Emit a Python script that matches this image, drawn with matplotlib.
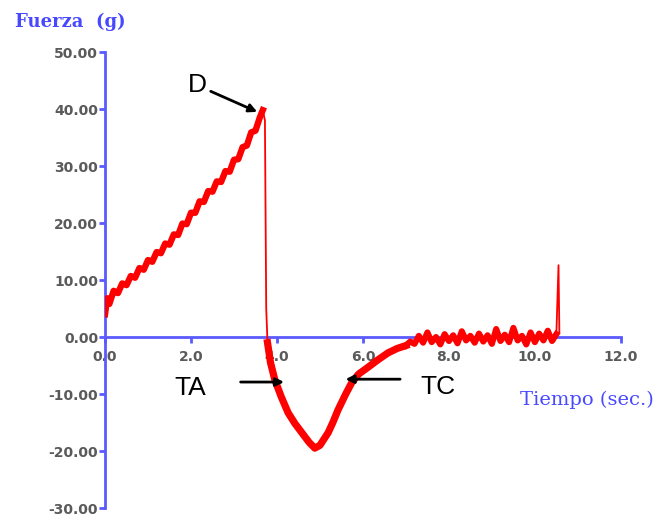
import matplotlib
matplotlib.use("Agg")
import matplotlib.pyplot as plt

# rise up to the break point D
rise_t = [0.0, 0.05, 0.1, 0.2, 0.3, 0.4, 0.5, 0.6, 0.7, 0.8, 0.9, 1.0, 1.1, 1.2,
          1.3, 1.4, 1.5, 1.6, 1.7, 1.8, 1.9, 2.0, 2.1, 2.2, 2.3, 2.4, 2.5, 2.6,
          2.7, 2.8, 2.9, 3.0, 3.1, 3.2, 3.3, 3.4, 3.5, 3.6, 3.67]
rise_f = [4.0, 6.8, 5.8, 8.1, 7.7, 9.4, 9.1, 10.7, 10.4, 12.1, 11.8, 13.5, 13.2, 14.9,
          14.7, 16.4, 16.2, 18.0, 17.9, 19.9, 19.8, 21.8, 21.8, 23.8, 23.7, 25.6, 25.5, 27.3,
          27.2, 29.1, 29.0, 31.1, 31.2, 33.3, 33.6, 35.9, 36.2, 38.5, 39.8]

# sudden drop after D
drop_t = [3.67, 3.72, 3.75, 3.78]
drop_f = [39.8, 38.0, 5.0, -1.0]

# adhesion trough (TA .. TC) and return to baseline
trough_t = [3.78, 3.85, 3.95, 4.1, 4.26, 4.42, 4.58, 4.75, 4.88, 5.0, 5.19, 5.3,
            5.42, 5.6, 5.74, 5.9, 6.12, 6.35, 6.58, 6.8, 7.0]
trough_f = [-1.0, -4.5, -7.5, -10.5, -13.3, -15.2, -16.8, -18.5, -19.5, -19.0, -16.8, -15.0,
            -12.8, -10.0, -8.0, -6.5, -5.3, -4.0, -2.8, -2.0, -1.5]

# noisy baseline
base_t = [7.1, 7.2, 7.3, 7.4, 7.5, 7.6, 7.7, 7.8, 7.9, 8.0, 8.1, 8.2, 8.3, 8.4, 8.5,
          8.6, 8.7, 8.8, 8.9, 9.0, 9.1, 9.2, 9.3, 9.4, 9.5, 9.6, 9.7, 9.8, 9.9, 10.0,
          10.1, 10.2, 10.3, 10.4, 10.5]
base_f = [-0.8, -1.2, 0.2, -1.0, 0.8, -0.9, 0.0, -1.3, 0.5, -0.7, 0.3, -1.1, 1.0, -0.6, 0.2,
          -1.0, 0.6, -0.8, 0.3, -1.2, 1.4, -0.7, 0.4, -0.9, 1.6, -0.6, 0.2, -1.3, 0.8, -0.9,
          0.6, -0.6, 1.1, -0.7, 0.5]

# final spike
spike_t = [10.5, 10.55, 10.57]
spike_f = [0.5, 12.6, 0.8]

x_ticks = [0, 2, 4, 6, 8, 10, 12]
y_ticks = [-30, -20, -10, 0, 10, 20, 30, 40, 50]

blue = "#5a5aff"
red = "#ff0000"

fig = plt.figure(figsize=(6.69, 5.18), dpi=100)
ax = fig.add_axes([0.157, 0.0193, 0.771, 0.8803])

ax.plot(rise_t, rise_f, color=red, lw=4.6, zorder=3)
ax.plot(drop_t, drop_f, color=red, lw=1.3, zorder=3)
ax.plot(trough_t, trough_f, color=red, lw=5.2, zorder=3)
ax.plot([trough_t[-1]] + base_t, [trough_f[-1]] + base_f, color=red, lw=4.4, zorder=3)
ax.plot(spike_t, spike_f, color=red, lw=1.3, zorder=3)

ax.set_xlim(0, 12)
ax.set_ylim(-30, 50)
ax.spines["top"].set_visible(False)
ax.spines["right"].set_visible(False)
ax.spines["bottom"].set_position(("data", 0))
for s in ("left", "bottom"):
    ax.spines[s].set_color(blue)
    ax.spines[s].set_linewidth(2)

ax.set_xticks(x_ticks)
ax.set_xticklabels([f"{v:.1f}" for v in x_ticks])
ax.set_yticks(y_ticks)
ax.set_yticklabels([f"{v:.2f}" for v in y_ticks])
ax.tick_params(axis="both", colors=blue, length=4, width=2, direction="out",
               labelcolor="#5a5a5a", labelsize=10)
ax.tick_params(axis="x", pad=5)
ax.tick_params(axis="y", pad=1)
for lab in ax.get_xticklabels() + ax.get_yticklabels():
    lab.set_fontweight("bold")

arrow = dict(arrowstyle="-|>", color="black", lw=2, mutation_scale=12)
ax.annotate("", xy=(3.6, 39.3), xytext=(2.4, 43.3), arrowprops=arrow)
ax.text(2.14, 44.2, "D", fontsize=19, family="Liberation Sans", ha="center", va="center")
ax.annotate("", xy=(4.23, -7.9), xytext=(3.09, -7.9), arrowprops=arrow)
ax.text(1.98, -8.9, "TA", fontsize=19, family="Liberation Sans", ha="center", va="center")
ax.annotate("", xy=(5.53, -7.4), xytext=(6.93, -7.4), arrowprops=arrow)
ax.text(7.74, -8.8, "TC", fontsize=19, family="Liberation Sans", ha="center", va="center")

fig.text(0.022, 0.957, "Fuerza  (g)", color="#4848ff", fontsize=13, fontweight="bold",
         family="DejaVu Serif", va="center", ha="left")
fig.text(0.777, 0.228, "Tiempo (sec.)", color="#4848ff", fontsize=14,
         family="DejaVu Serif", va="center", ha="left")

fig.savefig("out.png", dpi=100)
